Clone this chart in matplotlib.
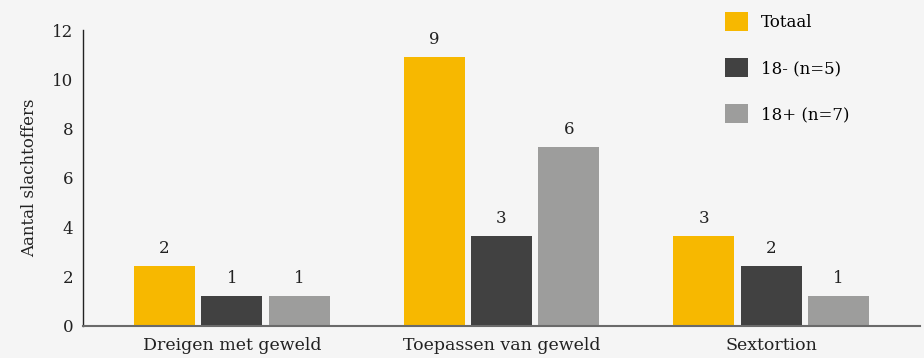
import matplotlib
matplotlib.use("Agg")
import matplotlib.pyplot as plt
import numpy as np
from matplotlib.patches import Patch

categories = ["Dreigen met geweld", "Toepassen van geweld", "Sextortion"]
series_names = ["Totaal", "18- (n=5)", "18+ (n=7)"]
totaal = [2, 9, 3]
jong = [1, 3, 2]
oud = [1, 6, 1]
colors = ["#F7B800", "#414141", "#9D9D9C"]
yticks = [0, 2, 4, 6, 8, 10, 12]

# bars are drawn on the axis' own weighting of the counts
bar_scale = 1.21

bg = "#F5F5F5"
txt = "#222222"
plt.rcParams["font.family"] = ["DejaVu Serif"]

fig = plt.figure(figsize=(9.24, 3.58), dpi=100, facecolor=bg)
ax = fig.add_axes([0.0898, 0.0894, 0.9059, 0.8268], facecolor=bg)

x = np.arange(len(categories))
width = 0.226
offset = 0.25
for i, (vals, name, c) in enumerate(zip([totaal, jong, oud], series_names, colors)):
    heights = np.array(vals) * bar_scale
    bars = ax.bar(x + (i - 1) * offset, heights, width=width, color=c, label=name, zorder=2)
    for b, v in zip(bars, vals):
        ax.annotate(str(v), (b.get_x() + b.get_width() / 2, b.get_height()),
                    xytext=(0, 6.5), textcoords="offset points", ha="center", va="bottom",
                    fontsize=12, color=txt)

ax.set_xlim(-0.552, 2.552)
ax.set_ylim(0, 12)
ax.set_yticks(yticks)
ax.set_xticks(x)
ax.set_xticklabels(categories, fontsize=12.5, color=txt)
ax.tick_params(axis="y", length=0, labelsize=12, labelcolor=txt, pad=7)
ax.tick_params(axis="x", length=0, pad=8)
ax.set_ylabel("Aantal slachtoffers", fontsize=12, color=txt, labelpad=10)

for s in ["top", "right"]:
    ax.spines[s].set_visible(False)
ax.spines["left"].set_color(txt)
ax.spines["left"].set_linewidth(1.0)
ax.spines["bottom"].set_color("#6a6a6a")
ax.spines["bottom"].set_linewidth(1.5)

handles = [Patch(facecolor=c, edgecolor="none") for c in colors]
fig.legend(handles, series_names, loc="upper left", bbox_to_anchor=(0.772, 1.0),
           frameon=False, fontsize=12, handlelength=1.4, handleheight=1.4,
           handletextpad=0.75, labelspacing=1.62, borderaxespad=0.3)

fig.savefig("out.png", dpi=100, facecolor=bg)
